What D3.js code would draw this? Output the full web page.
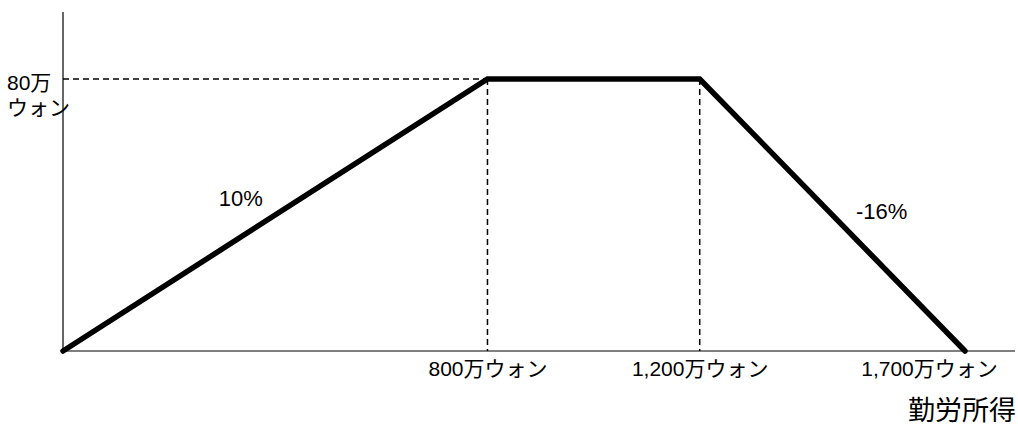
<!DOCTYPE html>
<html>
<head>
<meta charset="utf-8">
<script src="https://cdn.jsdelivr.net/npm/d3@7"></script>
<style>
  body { margin: 0; background: #fff; }
  text { font-family: "Liberation Sans", "Noto Sans CJK JP", sans-serif; fill: #000; }
</style>
</head>
<body>
<div id="chart"></div>
<script>
// Data
const incomes = [0, 800, 1200, 1700];          // 万ウォン
const credits = [0, 80, 80, 0];               // 万ウォン
const tickValues = [800, 1200, 1700];
const tickLabels = ["800万ウォン", "1,200万ウォン", "1,700万ウォン"];
const yLabelLines = ["80万", "ウォン"];
const slopeLabels = [
  { text: "10%",  x: 335,  y: 45 },
  { text: "-16%", x: 1543, y: 41 }
];

const W = 1018, H = 430;
const margin = { top: 12, right: 3, bottom: 79, left: 63 };

const svg = d3.select("#chart").append("svg")
  .attr("width", W)
  .attr("height", H);

const x = d3.scaleLinear().domain([0, 1700]).range([margin.left, 965]);
const y = d3.scaleLinear().domain([0, 80]).range([H - margin.bottom, 79]);

// Axes (plain lines)
svg.append("line")
  .attr("x1", margin.left).attr("x2", margin.left)
  .attr("y1", margin.top).attr("y2", y(0))
  .attr("stroke", "#000").attr("stroke-width", 1.2);

const xAxis = svg.append("g")
  .attr("transform", `translate(0,${y(0)})`)
  .call(d3.axisBottom(x).tickValues(tickValues).tickSize(0).tickPadding(10)
    .tickFormat((d, i) => tickLabels[i]));
xAxis.select(".domain").remove();
xAxis.append("line")
  .attr("x1", margin.left).attr("x2", W - margin.right)
  .attr("stroke", "#000").attr("stroke-width", 1.2);
xAxis.selectAll(".tick text")
  .style("font-size", "21px")
  .attr("fill", "#000")
  .attr("dx", (d, i) => i === 2 ? -36 : 0);

// Dashed guides
const dash = "6,4";
svg.append("line")
  .attr("x1", margin.left).attr("x2", x(800))
  .attr("y1", y(80)).attr("y2", y(80))
  .attr("stroke", "#000").attr("stroke-width", 1.5)
  .attr("stroke-dasharray", dash);
[800, 1200].forEach(v => {
  svg.append("line")
    .attr("x1", x(v)).attr("x2", x(v))
    .attr("y1", y(80)).attr("y2", y(0))
    .attr("stroke", "#000").attr("stroke-width", 1.5)
    .attr("stroke-dasharray", dash);
});

// Main line
const pts = incomes.map((d, i) => [d, credits[i]]);
svg.append("path")
  .datum(pts)
  .attr("fill", "none")
  .attr("stroke", "#000")
  .attr("stroke-width", 5.5)
  .attr("stroke-linecap", "round")
  .attr("stroke-linejoin", "miter")
  .attr("d", d3.line().x(d => x(d[0])).y(d => y(d[1])));

// Y label (two lines)
yLabelLines.forEach((t, i) => {
  svg.append("text")
    .attr("x", 7).attr("y", 90 + i * 25)
    .style("font-size", "21px")
    .text(t);
});

// Slope labels
slopeLabels.forEach(s => {
  svg.append("text")
    .attr("x", x(s.x)).attr("y", y(s.y))
    .attr("text-anchor", "middle")
    .attr("dominant-baseline", "central")
    .style("font-size", "22px")
    .text(s.text);
});

// X axis title
svg.append("text")
  .attr("x", W - 2).attr("y", 420)
  .attr("text-anchor", "end")
  .style("font-size", "27px")
  .text("勤労所得");
</script>
</body>
</html>
